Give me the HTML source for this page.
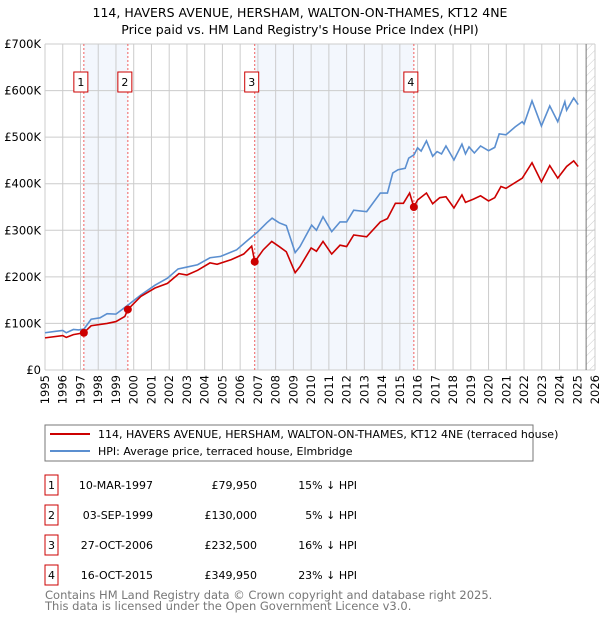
<!DOCTYPE html>
<html><head><meta charset="utf-8"><style>
body{margin:0;background:#fff;font-family:"DejaVu Sans","Liberation Sans",sans-serif;}
svg text{font-family:"DejaVu Sans","Liberation Sans",sans-serif;}
</style></head><body>
<svg id="chart" width="600" height="620" viewBox="0 0 600 620" xmlns="http://www.w3.org/2000/svg">
<defs><pattern id="hatch" width="6" height="6" patternUnits="userSpaceOnUse" patternTransform="rotate(45)"><line x1="0" y1="0" x2="0" y2="6" stroke="#ccc" stroke-width="1"/></pattern></defs>
<text x="300" y="17" text-anchor="middle" font-size="12.5">114, HAVERS AVENUE, HERSHAM, WALTON-ON-THAMES, KT12 4NE</text>
<text x="300" y="34" text-anchor="middle" font-size="12.5">Price paid vs. HM Land Registry's House Price Index (HPI)</text>
<g id="plot"></g>
<rect x="45" y="425" width="488" height="36" fill="#fff" stroke="#777"/>
<line x1="50" y1="434" x2="90" y2="434" stroke="#cc0000" stroke-width="2"/>
<text x="98" y="438" font-size="11">114, HAVERS AVENUE, HERSHAM, WALTON-ON-THAMES, KT12 4NE (terraced house)</text>
<line x1="50" y1="451" x2="90" y2="451" stroke="#5b8fd0" stroke-width="2"/>
<text x="98" y="455" font-size="11">HPI: Average price, terraced house, Elmbridge</text>
<g id="table"></g>
<text x="45" y="599" font-size="11.5" fill="#777">Contains HM Land Registry data © Crown copyright and database right 2025.</text>
<text x="45" y="610" font-size="11.5" fill="#777">This data is licensed under the Open Government Licence v3.0.</text>
</svg>
<script>
const yTicks=[0,100,200,300,400,500,600,700];
const yTickLabels=["£0","£100K","£200K","£300K","£400K","£500K","£600K","£700K"];
const xYears=[1995,1996,1997,1998,1999,2000,2001,2002,2003,2004,2005,2006,2007,2008,2009,2010,2011,2012,2013,2014,2015,2016,2017,2018,2019,2020,2021,2022,2023,2024,2025,2026];
const hpiT=[1995.0,1995.6,1996.0,1996.2,1996.6,1996.9,1997.2,1997.6,1998.1,1998.5,1999.0,1999.7,2000.4,2001.2,2001.9,2002.5,2003.0,2003.6,2004.3,2004.9,2005.8,2006.5,2007.0,2007.5,2007.8,2008.2,2008.6,2009.1,2009.37,2010.03,2010.3,2010.67,2011.16,2011.63,2012.0,2012.4,2013.13,2013.9,2014.3,2014.6,2014.9,2015.3,2015.5,2015.8,2016.0,2016.2,2016.5,2016.85,2017.1,2017.35,2017.6,2018.05,2018.5,2018.7,2018.9,2019.2,2019.55,2020.0,2020.35,2020.6,2020.98,2021.5,2021.9,2022.0,2022.45,2022.98,2023.45,2023.9,2024.3,2024.4,2024.8,2025.05];
const hpiV=[80,83,85,80,87,86,88,109,112,121,120,140,161,182,197,217,221,226,241,244,258,281,297,316,326,316,310,252,265,311,300,329,297,318,318,343,340,380,380,423,430,433,455,462,477,470,492,459,469,464,481,451,485,464,479,466,481,471,478,507,505,522,533,528,578,524,567,533,576,558,584,570];
const priceT=[1995.0,1996.0,1996.2,1996.6,1997.19,1997.6,1998.5,1999.0,1999.5,1999.67,2000.4,2001.2,2001.9,2002.55,2003.0,2003.6,2004.3,2004.7,2005.5,2006.2,2006.65,2006.82,2007.3,2007.78,2008.2,2008.6,2009.1,2009.37,2010.0,2010.3,2010.67,2011.16,2011.63,2012.0,2012.4,2013.13,2013.9,2014.3,2014.75,2015.2,2015.55,2015.79,2016.0,2016.5,2016.85,2017.25,2017.6,2018.05,2018.5,2018.7,2019.15,2019.55,2020.0,2020.35,2020.7,2020.98,2021.9,2022.45,2022.98,2023.45,2023.9,2024.4,2024.8,2025.05];
const priceV=[69,74,70,76,80,95,100,104,115,130,158,176,186,207,204,214,230,227,237,249,266,232.5,258,276,265,254,209,222,262,255,276,249,268,265,290,286,318,325,358,358,380,349.95,365,380,357,370,372,348,376,360,367,374,363,370,394,390,412,445,404,439,412,437,449,437];
const saleT=[1997.19,1999.67,2006.82,2015.79];
const saleV=[79.95,130,232.5,349.95];
const saleDates=["10-MAR-1997","03-SEP-1999","27-OCT-2006","16-OCT-2015"];
const salePrices=["£79,950","£130,000","£232,500","£349,950"];
const saleDiff=["15% ↓ HPI","5% ↓ HPI","16% ↓ HPI","23% ↓ HPI"];
const NS="http://www.w3.org/2000/svg";
const X0=45,X1=595,Y0=370,Y1=44;
const x=t=>X0+(t-1995)/(2026-1995)*(X1-X0);
const y=v=>Y0-v/700*(Y0-Y1);
const plot=document.getElementById('plot');
function mk(tag,at,parent){const e=document.createElementNS(NS,tag);for(const k in at)e.setAttribute(k,at[k]);(parent||plot).appendChild(e);return e;}
// shading
let r=mk('rect',{x:x(saleT[0]),y:Y1,width:x(saleT[1])-x(saleT[0]),height:Y0-Y1,fill:'#eef3fc',opacity:0.7});


r=mk('rect',{x:x(saleT[2]),y:Y1,width:x(saleT[3])-x(saleT[2]),height:Y0-Y1,fill:'#eef3fc',opacity:0.7});


r=mk('rect',{x:x(2025.5),y:Y1,width:X1-x(2025.5),height:Y0-Y1,fill:'url(#hatch)'});


// grid
yTicks.forEach((v,i)=>{const l=mk('line',{x1:X0,x2:X1,y1:y(v),y2:y(v),stroke:'#ccc'});


const t=mk('text',{x:X0-4,y:y(v)+4,'text-anchor':'end','font-size':11.5});t.textContent=yTickLabels[i];

});
xYears.forEach(yr=>{const l=mk('line',{x1:x(yr),x2:x(yr),y1:Y1,y2:Y0,stroke:'#ccc'});


const t=mk('text',{x:0,y:0,'text-anchor':'end','font-size':11.5,transform:`translate(${x(yr)+4},${Y0+5}) rotate(-90)`});t.textContent=yr;

});
r=mk('line',{x1:x(2025.5),x2:x(2025.5),y1:Y1,y2:Y0,stroke:'#777'});


// sale lines & boxes
saleT.forEach((t,i)=>{const l=mk('line',{x1:x(t),x2:x(t),y1:Y1,y2:Y0,stroke:'#f06060','stroke-dasharray':'2,2'});


const b=mk('rect',{x:x(t)-10,y:72,width:14,height:20,fill:'#fff',stroke:'#cc0000'});


const tx=mk('text',{x:x(t)-3,y:86,'text-anchor':'middle','font-size':11});tx.textContent=i+1;

});
const hp=mk('polyline',{points:hpiT.map((t,i)=>x(t)+','+y(hpiV[i])).join(' '),fill:'none',stroke:'#5b8fd0','stroke-width':1.6});


const pp=mk('polyline',{points:priceT.map((t,i)=>x(t)+','+y(priceV[i])).join(' '),fill:'none',stroke:'#cc0000','stroke-width':1.6});


saleT.forEach((t,i)=>{const c=mk('circle',{cx:x(t),cy:y(saleV[i]),r:4,fill:'#cc0000'});

});
// table
const tb=document.getElementById('table');
saleT.forEach((t,i)=>{const yy=483+i*30;
const b=mk('rect',{x:45,y:yy-8,width:13,height:20,fill:'#fff',stroke:'#cc0000'},tb);


const vals=[[51.5,String(i+1),'middle'],[153,saleDates[i],'end'],[257,salePrices[i],'end'],[357,saleDiff[i],'end']];
vals.forEach(v=>{const tx=mk('text',{x:v[0],y:yy+6,'text-anchor':v[2],'font-size':11},tb);tx.textContent=v[1];

});});
</script>
</body></html>
